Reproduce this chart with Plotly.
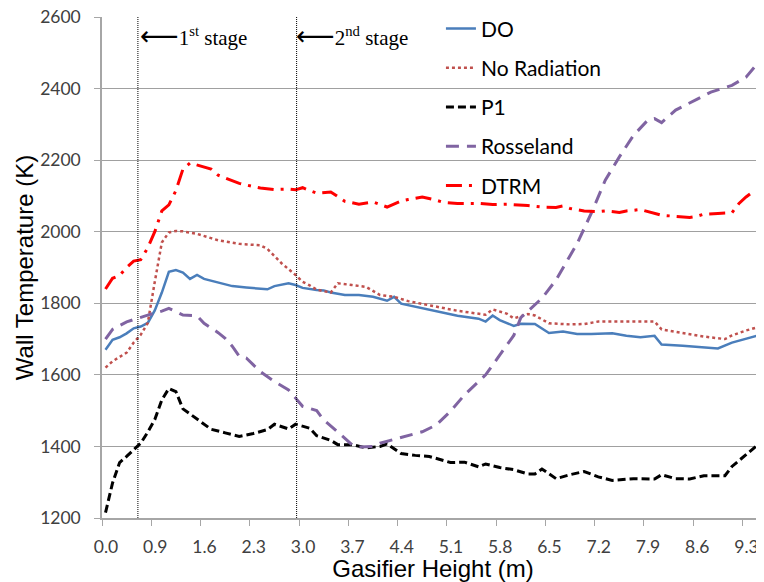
import plotly.graph_objects as go

# sample index along gasifier (category positions), tick labels every 7 samples
tick_idx = [0, 7, 14, 21, 28, 35, 42, 49, 56, 63, 70, 77, 84, 91]
tick_labels = ["0.0", "0.9", "1.6", "2.3", "3.0", "3.7", "4.4", "5.1", "5.8",
               "6.5", "7.2", "7.9", "8.6", "9.3"]

do_x = [0, 1, 2, 3, 4, 5, 6, 7, 8, 9, 10, 11, 12, 13, 14, 15, 17, 18, 20, 22, 23, 24,
        26, 27, 28, 30, 31, 32, 34, 36, 38, 40, 41, 42, 45, 47, 50, 53, 54, 55, 56, 58,
        59, 61, 63, 65, 67, 69, 72, 74, 76, 78, 79, 82, 84, 87, 89, 91, 93]
do_y = [1670, 1698, 1705, 1716, 1730, 1735, 1745, 1780, 1830, 1888, 1893, 1886, 1868,
        1879, 1868, 1863, 1855, 1848, 1844, 1841, 1839, 1848, 1856, 1851, 1843, 1837,
        1836, 1830, 1823, 1823, 1818, 1807, 1818, 1799, 1786, 1776, 1765, 1757, 1749,
        1766, 1753, 1737, 1743, 1742, 1717, 1721, 1714, 1714, 1716, 1709, 1705, 1709,
        1685, 1681, 1679, 1674, 1690, 1700, 1712]

norad_x = [0, 1, 3, 4, 5, 6, 7, 8, 9, 10, 11, 13, 15, 16, 19, 22, 23, 25, 27, 28, 29,
           30, 32, 33, 35, 37, 39, 41, 43, 47, 50, 54, 55, 57, 58, 60, 61, 63, 66, 68,
           70, 74, 78, 79, 82, 85, 88, 89, 91, 93]
norad_y = [1620, 1638, 1662, 1690, 1712, 1745, 1860, 1970, 1998, 2002, 2001, 1994,
           1982, 1976, 1966, 1962, 1952, 1912, 1879, 1860, 1850, 1838, 1830, 1856, 1851,
           1846, 1823, 1818, 1806, 1791, 1779, 1768, 1783, 1771, 1758, 1770, 1766, 1744,
           1741, 1742, 1749, 1749, 1749, 1727, 1716, 1707, 1700, 1710, 1724, 1735]

p1_x = [0, 1, 2, 3, 5, 6, 7, 8, 9, 10, 11, 13, 15, 17, 19, 21, 23, 24, 26, 27, 29, 30,
        32, 33, 35, 37, 39, 40, 42, 44, 46, 49, 51, 53, 54, 56, 58, 60, 61, 62, 64, 66,
        68, 70, 72, 75, 78, 79, 81, 83, 85, 88, 89, 91, 93]
p1_y = [1215, 1298, 1355, 1372, 1409, 1440, 1475, 1530, 1562, 1553, 1505, 1477, 1448,
        1438, 1428, 1436, 1447, 1462, 1449, 1462, 1451, 1430, 1417, 1405, 1405, 1396,
        1400, 1407, 1380, 1375, 1372, 1355, 1356, 1343, 1351, 1341, 1335, 1323, 1323,
        1337, 1310, 1321, 1330, 1315, 1305, 1310, 1309, 1321, 1310, 1309, 1318, 1318,
        1344, 1377, 1410]

ross_x = [0, 1, 3, 5, 6, 8, 9, 10, 11, 13, 14, 16, 17, 18, 19, 20, 22, 24, 26, 27, 28,
          30, 31, 33, 35, 36, 38, 39, 41, 43, 45, 47, 49, 51, 54, 56, 58, 59, 61, 62,
          64, 67, 69, 71, 73, 75, 77, 78, 79, 81, 84, 86, 89, 91, 93]
ross_y = [1700, 1727, 1748, 1762, 1767, 1778, 1786, 1777, 1767, 1765, 1744, 1718, 1702,
          1680, 1652, 1647, 1609, 1581, 1558, 1535, 1512, 1500, 1474, 1440, 1405, 1398,
          1400, 1409, 1419, 1430, 1441, 1460, 1498, 1544, 1600, 1655, 1710, 1760, 1795,
          1814, 1865, 1967, 2051, 2144, 2209, 2269, 2311, 2316, 2305, 2340, 2370, 2390,
          2409, 2432, 2479]

dtrm_x = [0, 1, 2, 3, 4, 5, 6, 7, 8, 9, 10, 11, 12, 13, 14, 15, 16, 18, 19, 21, 22, 24,
          26, 27, 28, 29, 30, 32, 34, 36, 38, 40, 42, 43, 45, 47, 48, 50, 53, 55, 57,
          60, 62, 64, 65, 66, 68, 70, 71, 73, 74, 76, 77, 79, 81, 83, 84, 85, 87, 89,
          90, 91, 92]
dtrm_y = [1840, 1870, 1878, 1900, 1918, 1922, 1955, 2000, 2058, 2075, 2115, 2175, 2192,
          2187, 2182, 2175, 2158, 2142, 2135, 2126, 2122, 2118, 2119, 2117, 2123, 2115,
          2108, 2111, 2085, 2077, 2083, 2069, 2086, 2090, 2097, 2088, 2082, 2079, 2079,
          2076, 2077, 2073, 2069, 2068, 2072, 2065, 2058, 2056, 2058, 2054, 2058, 2062,
          2056, 2046, 2043, 2040, 2043, 2049, 2051, 2053, 2079, 2097, 2112]

stage_pos = [4.6, 27.15]
stage_text = ["1<sup>st</sup> stage", "2<sup>nd</sup> stage"]
stage_shift = [0, -3]
ARROW = '<span style="font-family:DejaVu Sans;font-size:27px">⟵</span>'

fig = go.Figure()
series = [
    ("DO", do_x, do_y, dict(color="#4A7EBB", width=2.5, dash="solid")),
    ("No Radiation", norad_x, norad_y, dict(color="#C0504D", width=2.5, dash="dot")),
    ("P1", p1_x, p1_y, dict(color="#000000", width=3, dash="8px,4px")),
    ("Rosseland", ross_x, ross_y, dict(color="#8064A2", width=3, dash="13px,8px")),
    ("DTRM", dtrm_x, dtrm_y, dict(color="#FF0000", width=3, dash="16px,7px,3px,7px")),
]
for name, xs, ys, ln in series:
    fig.add_trace(go.Scatter(x=xs, y=ys, mode="lines", name=name, line=ln,
                             legendgroup=name))

for xp, txt, sh in zip(stage_pos, stage_text, stage_shift):
    fig.add_shape(type="line", xref="x", yref="paper", x0=xp, x1=xp, y0=0, y1=1,
                  line=dict(color="black", width=1, dash="1px,1px"))
    fig.add_annotation(x=xp, y=0.963, xref="x", yref="paper",
                       text=ARROW + txt,
                       showarrow=False, xanchor="left", yanchor="middle", xshift=sh,
                       font=dict(family="Liberation Serif", size=21, color="black"))

# the page adds an 8px body margin; size the figure so the plot area lands in place
fig.update_layout(
    width=756, height=574,
    margin=dict(l=94, r=0, t=9, b=64),
    plot_bgcolor="white", paper_bgcolor="white",
    font=dict(family="Lato", color="#404040"),
    showlegend=True,
    legend=dict(x=0.512, y=1.0175, xanchor="left", yanchor="top",
                bgcolor="rgba(0,0,0,0)", traceorder="grouped", tracegroupgap=9,
                font=dict(family="Lato", size=21, color="black")),
)
fig.update_xaxes(
    automargin=False,
    range=[-0.5, 93.55],
    tickmode="array", tickvals=[i - 0.5 for i in tick_idx], ticktext=tick_labels,
    ticklabelshift=4, ticklabelstandoff=6, ticklabeloverflow="allow",
    ticks="outside", ticklen=6, tickcolor="#A6A6A6", tickwidth=1.3,
    showline=True, linecolor="#A6A6A6", linewidth=1.5,
    showgrid=False, zeroline=False,
    tickfont=dict(family="Lato", size=17.5, color="#404040"),
    title=dict(text="Gasifier Height (m)", standoff=4,
               font=dict(family="Liberation Sans", size=24, color="black")),
)
fig.update_yaxes(
    automargin=False,
    range=[1200, 2600], dtick=200, tick0=1200,
    ticks="outside", ticklen=6, tickcolor="#A6A6A6", tickwidth=1.3,
    ticklabelstandoff=10, ticklabeloverflow="allow",
    showline=True, linecolor="#A6A6A6", linewidth=1.5,
    showgrid=True, gridcolor="#A0A0A0", gridwidth=1, zeroline=False,
    tickfont=dict(family="Lato", size=17.5, color="#404040"),
    title=dict(text="Wall Temperature (K)", standoff=0,
               font=dict(family="Liberation Sans", size=24, color="black")),
)

fig.write_html("out.html")
